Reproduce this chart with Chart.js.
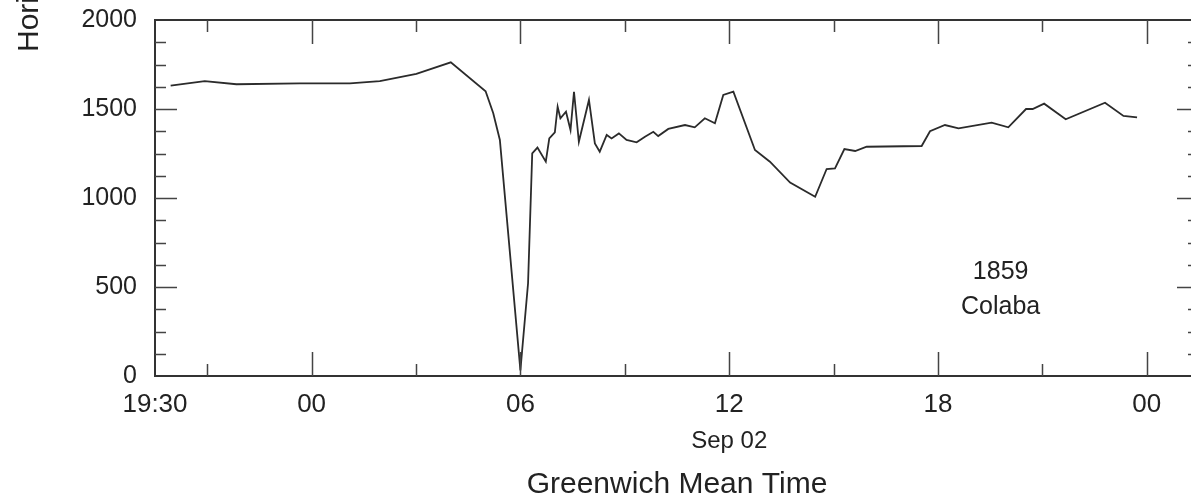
<!DOCTYPE html>
<html>
<head>
<meta charset="utf-8">
<script src="https://cdn.jsdelivr.net/npm/chart.js@4.4.1/dist/chart.umd.min.js"></script>
<style>
html, body { margin: 0; padding: 0; background: #fff; overflow: hidden; }
canvas { display: block; }
</style>
</head>
<body>
<canvas id="colabaChart" width="1210" height="500"></canvas>
<script>
// Colaba horizontal intensity during the 1859 storm
// x values are hours counted from Sep 01 00:00 GMT
const hours = [
    19.95, 20.93, 21.84, 23.66, 25.10, 25.96, 27.01, 28.00, 29.00, 29.22,
    29.41, 30.00, 30.22, 30.34, 30.49, 30.73, 30.83, 30.99, 31.07, 31.15,
    31.31, 31.44, 31.54, 31.68, 31.97, 32.14, 32.28, 32.48, 32.62, 32.83,
    33.05, 33.34, 33.58, 33.82, 33.96, 34.25, 34.73, 35.01, 35.30, 35.59,
    35.83, 36.12, 36.74, 37.17, 37.75, 38.47, 38.80, 39.04, 39.31, 39.62,
    39.95, 41.53, 41.77, 42.20, 42.59, 43.54, 44.02, 44.53, 44.72, 45.05,
    45.67, 46.80, 47.33, 47.72
];
const intensity = [
    1631, 1657, 1639, 1644, 1644, 1657, 1697, 1762, 1600, 1476,
    1326, 32, 521, 1251, 1283, 1204, 1335, 1369, 1513, 1448,
    1485, 1382, 1597, 1316, 1551, 1307, 1260, 1354, 1335, 1363,
    1326, 1313, 1344, 1372, 1348, 1388, 1410, 1397, 1448, 1420,
    1579, 1597, 1270, 1204, 1087, 1007, 1163, 1167, 1275, 1264,
    1288, 1292, 1375, 1410, 1391, 1423, 1397, 1500, 1500, 1530,
    1442, 1535, 1461, 1453
];

const xTickValues = [19.5, 24, 30, 36, 42, 48];
const xTickLabels = ['19:30', '00', '06', '12', '18', '00'];
const xMinorTicks = [21, 27, 33, 39, 45];
const yTickValues = [0, 500, 1000, 1500, 2000];
const yMinorStep = 125;

const FONT = '"Liberation Sans", Arial, sans-serif';
const INK = '#222';

// frame box, inward ticks on all four sides, and the loose text labels
const frameTicks = {
    id: 'frameTicks',
    afterDatasetsDraw(chart) {
        const ctx = chart.ctx;
        const a = chart.chartArea;
        const x = chart.scales.x;
        const y = chart.scales.y;
        ctx.save();

        ctx.strokeStyle = '#333';
        ctx.lineWidth = 2;
        ctx.strokeRect(a.left, a.top, a.right - a.left, a.bottom - a.top);

        ctx.strokeStyle = '#444';
        ctx.lineWidth = 1.5;
        ctx.beginPath();
        const vTick = (v, len) => {
            const px = Math.round(x.getPixelForValue(v)) + 0.5;
            ctx.moveTo(px, a.bottom); ctx.lineTo(px, a.bottom - len);
            ctx.moveTo(px, a.top); ctx.lineTo(px, a.top + len);
        };
        const hTick = (v, len) => {
            const py = Math.round(y.getPixelForValue(v)) + 0.5;
            ctx.moveTo(a.left, py); ctx.lineTo(a.left + len, py);
            ctx.moveTo(a.right, py); ctx.lineTo(a.right - len, py);
        };
        xTickValues.slice(1).forEach(v => vTick(v, 24));
        xMinorTicks.forEach(v => vTick(v, 12));
        for (let v = yMinorStep; v < 2000; v += yMinorStep) {
            hTick(v, v % 500 === 0 ? 22 : 11);
        }
        ctx.stroke();

        ctx.fillStyle = INK;
        ctx.textAlign = 'center';
        ctx.textBaseline = 'middle';
        ctx.font = '24px ' + FONT;
        ctx.fillText('Sep 02', x.getPixelForValue(36), 441);
        ctx.font = '25px ' + FONT;
        ctx.fillText('1859', x.getPixelForValue(43.8), y.getPixelForValue(585));
        ctx.fillText('Colaba', x.getPixelForValue(43.8), y.getPixelForValue(385));

        // y title, cut off at the top edge like the source figure
        ctx.translate(38, 52);
        ctx.rotate(-Math.PI / 2);
        ctx.textAlign = 'left';
        ctx.textBaseline = 'alphabetic';
        ctx.font = '30px ' + FONT;
        ctx.fillText('Horizontal Intensity (nT)', 0, 0);
        ctx.restore();
    }
};

new Chart(document.getElementById('colabaChart'), {
    type: 'line',
    data: {
        datasets: [{
            data: hours.map((h, i) => ({ x: h, y: intensity[i] })),
            borderColor: '#2b2b2b',
            borderWidth: 1.8,
            pointRadius: 0,
            tension: 0,
            fill: false
        }]
    },
    options: {
        responsive: false,
        animation: false,
        layout: { padding: { top: 20, right: 11, left: 0, bottom: 0 } },
        plugins: {
            legend: { display: false },
            tooltip: { enabled: false }
        },
        scales: {
            x: {
                type: 'linear',
                min: 19.5,
                max: 49.5,
                afterBuildTicks: scale => {
                    scale.ticks = xTickValues.map(v => ({ value: v }));
                },
                afterFit: scale => {
                    scale.height = 124;
                    scale.paddingLeft = 0;
                    scale.paddingRight = 0;
                },
                grid: { display: false, drawTicks: false },
                border: { display: false },
                ticks: {
                    autoSkip: false,
                    maxRotation: 0,
                    padding: 13,
                    color: INK,
                    font: { family: FONT, size: 26 },
                    callback: v => xTickLabels[xTickValues.indexOf(v)]
                },
                title: {
                    display: true,
                    text: 'Greenwich Mean Time',
                    color: INK,
                    font: { family: FONT, size: 30, lineHeight: 1 },
                    padding: { top: 0, bottom: 0 }
                }
            },
            y: {
                min: 0,
                max: 2000,
                afterBuildTicks: scale => {
                    scale.ticks = yTickValues.map(v => ({ value: v }));
                },
                afterFit: scale => {
                    scale.width = 155;
                    scale.paddingTop = 0;
                    scale.paddingBottom = 0;
                },
                grid: { display: false, drawTicks: false },
                border: { display: false },
                ticks: {
                    padding: 18,
                    color: INK,
                    font: { family: FONT, size: 25 },
                    callback: v => String(v)
                }
            }
        }
    },
    plugins: [frameTicks]
});
</script>
</body>
</html>
